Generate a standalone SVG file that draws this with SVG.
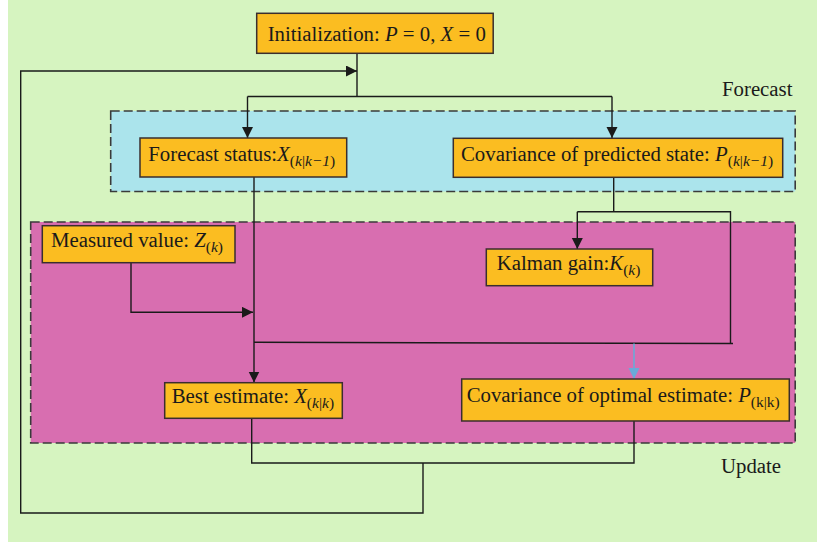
<svg xmlns="http://www.w3.org/2000/svg" width="817" height="543" viewBox="0 0 817 543">
<defs>
<style>
.t{font-family:"Liberation Serif","Times New Roman",serif;font-size:20.8px;fill:#1a1a1a}
.s{font-size:15.5px}
.i{font-style:italic}
.box{fill:#fbbd21;stroke:#3a2e2e;stroke-width:1.5}
.grp{stroke:#3a3a3a;stroke-width:1.6;stroke-dasharray:9 4}
.ln{fill:none;stroke:#1a1a1a;stroke-width:1.4}
</style>
<marker id="ah" markerUnits="userSpaceOnUse" markerWidth="12" markerHeight="12" refX="11" refY="5.5" orient="auto">
<path d="M0,0 L11,5.5 L0,11 Z" fill="#1a1a1a"/>
</marker>
<marker id="ahb" markerUnits="userSpaceOnUse" markerWidth="12" markerHeight="12" refX="11" refY="5.5" orient="auto">
<path d="M0,0 L11,5.5 L0,11 Z" fill="#6aaad8"/>
</marker>
</defs>
<rect x="8" y="0" width="809" height="542" fill="#d6f4c0"/>
<g id="forecast-group">
<rect x="110.7" y="111" width="684.5" height="80.5" fill="#abe4ec" class="grp"/>
<text class="t" x="722" y="96" font-family="Liberation Serif, serif">Forecast</text>
</g>
<g id="update-group">
<rect x="30.7" y="222" width="764.5" height="221" fill="#d86eb0" class="grp"/>
<text class="t" x="721" y="473" font-family="Liberation Serif, serif">Update</text>
</g>
<g id="connectors">
<path class="ln" d="M357,53.3 V96.5 M247.5,96.5 H612"/>
<path class="ln" d="M247.5,96.5 V138" marker-end="url(#ah)"/>
<path class="ln" d="M612,96.5 V138" marker-end="url(#ah)"/>
<path class="ln" d="M423,463 V513 H20.7 V71 H357" marker-end="url(#ah)"/>
<path class="ln" d="M251.7,418.3 V463 H634 V421"/>
<path class="ln" d="M254,177 V382.5" marker-end="url(#ah)"/>
<path class="ln" d="M131,262.7 V312.3 H253" marker-end="url(#ah)"/>
<path class="ln" d="M613.7,177.3 V211.7 M577.3,211.7 H730.5 V343.5 M254,342.3 L733,343.5"/>
<path class="ln" d="M577.3,211.7 V249" marker-end="url(#ah)"/>
<path fill="none" stroke="#6aaad8" stroke-width="1.6" d="M634,343.5 V379" marker-end="url(#ahb)"/>
</g>
<g id="init">
<rect class="box" x="256.7" y="13.3" width="236.5" height="40"/>
<text class="t" x="267.7" y="41" font-family="Liberation Serif, serif">Initialization: <tspan class="i">P</tspan> = 0, <tspan class="i">X</tspan> = 0</text>
</g>
<g id="forecast-status">
<rect class="box" x="140" y="138" width="206.7" height="39"/>
<text class="t" x="148.3" y="161" font-family="Liberation Serif, serif">Forecast status:<tspan class="i">X</tspan><tspan class="s" dy="5">(<tspan class="i">k</tspan>|<tspan class="i">k−1</tspan>)</tspan></text>
</g>
<g id="cov-predicted">
<rect class="box" x="453.3" y="138.3" width="329.4" height="39"/>
<text class="t" x="461" y="161" font-family="Liberation Serif, serif">Covariance of predicted state: <tspan class="i">P</tspan><tspan class="s" dy="5">(<tspan class="i">k</tspan>|<tspan class="i">k−1</tspan>)</tspan></text>
</g>
<g id="measured">
<rect class="box" x="42.3" y="225.7" width="192.7" height="37"/>
<text class="t" x="51" y="247" font-family="Liberation Serif, serif">Measured value: <tspan class="i">Z</tspan><tspan class="s" dy="5">(<tspan class="i">k</tspan>)</tspan></text>
</g>
<g id="kalman">
<rect class="box" x="486.3" y="249" width="166.4" height="36.7"/>
<text class="t" x="496.7" y="270" font-family="Liberation Serif, serif">Kalman gain:<tspan class="i">K</tspan><tspan class="s" dy="5">(<tspan class="i">k</tspan>)</tspan></text>
</g>
<g id="best-estimate">
<rect class="box" x="164.7" y="382.7" width="177.6" height="35.6"/>
<text class="t" x="171.7" y="403" font-family="Liberation Serif, serif">Best estimate: <tspan class="i">X</tspan><tspan class="s" dy="5">(<tspan class="i">k</tspan>|<tspan class="i">k</tspan>)</tspan></text>
</g>
<g id="cov-optimal">
<rect class="box" x="461.7" y="379" width="327.6" height="42"/>
<text class="t" x="466.7" y="402" font-family="Liberation Serif, serif">Covariance of optimal estimate: <tspan class="i">P</tspan><tspan class="s" dy="5">(k|k)</tspan></text>
</g>
</svg>
